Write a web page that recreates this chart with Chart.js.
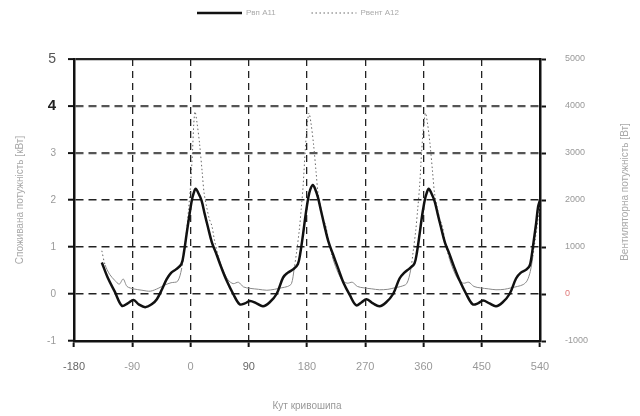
<!DOCTYPE html>
<html lang="uk">
<head>
<meta charset="UTF-8">
<title>Споживана і вентиляторна потужність</title>
<script src="https://cdn.jsdelivr.net/npm/chart.js"></script>
<style>
    body { margin: 0; background: #fff; font-family: "Liberation Sans", Arial, sans-serif; }
</style>
</head>
<body>
<canvas id="myChart" width="640" height="416"></canvas>
<script>
    // Кут кривошипа [град] і споживана потужність А11 [кВт]
    const angleA11 = [-137,-128,-117,-106,-97,-88,-80,-70,-60,-52,-44,-37,-30,-22,-14,-10,-6,-2,2,5,8,12,17,22,27,33,40,48,56,66,
        76,84,92,102,112,122,133,143,150,159,166,170,174,178,182,185,189,193,197,202,207,213,220,228,236,246,
        256,264,272,282,292,302,313,323,330,339,346,350,354,358,362,365,368,372,377,382,387,393,400,408,416,426,
        436,444,452,462,472,482,493,503,510,519,524,527,530,534,537,540];
    const powerA11 = [0.67,0.35,0.05,-0.25,-0.2,-0.13,-0.22,-0.28,-0.22,-0.11,0.1,0.31,0.45,0.53,0.64,0.9,1.28,1.65,1.99,2.15,2.24,2.15,1.99,1.7,1.42,1.1,0.85,0.55,0.28,0.0,
        -0.22,-0.2,-0.15,-0.2,-0.26,-0.18,0.0,0.35,0.45,0.53,0.64,0.9,1.28,1.7,2.05,2.22,2.32,2.22,2.05,1.75,1.45,1.12,0.85,0.55,0.25,-0.02,
        -0.24,-0.18,-0.11,-0.2,-0.26,-0.18,0.0,0.33,0.45,0.55,0.65,0.9,1.28,1.68,2.0,2.15,2.24,2.15,1.98,1.7,1.42,1.1,0.85,0.55,0.28,0.0,
        -0.22,-0.2,-0.14,-0.2,-0.26,-0.18,0.0,0.33,0.45,0.52,0.6,0.8,1.1,1.5,1.85,2.0];

    // Вентиляторна потужність А12 [Вт]
    const angleA12 = [-137,-132,-125,-117,-110,-104,-98,-88,-75,-62,-50,-40,-30,-20,-14,-10,-6,-3,0,3,5,7,10,14,18,21,25,29,33,37,43,50,58,66,
        74,82,92,105,118,130,140,150,156,160,164,168,171,174,177,180,183,186,190,194,197,201,205,209,213,219,226,234,242,
        250,258,268,280,292,305,315,325,334,340,344,348,351,354,357,360,363,366,370,374,377,381,385,389,393,399,406,414,422,
        430,438,448,460,472,485,495,505,514,520,525,529,533,537,540];
    const powerA12 = [920,620,420,290,210,320,160,110,80,60,120,190,240,270,520,900,1350,1800,2300,3000,3600,3880,3650,3200,2600,2150,1850,1600,1450,1150,800,520,300,220,
        250,150,120,100,80,100,130,160,220,520,900,1350,1800,2300,3000,3550,3850,3650,3200,2600,2150,1850,1600,1450,1150,800,520,300,230,
        250,160,130,110,90,100,130,160,220,500,900,1350,1800,2300,3000,3550,3850,3650,3200,2600,2150,1850,1600,1450,1150,800,520,300,230,
        250,160,130,110,90,100,130,160,200,280,480,800,1200,1600,1900];

    const xTicks = [-180, -90, 0, 90, 180, 270, 360, 450, 540];
    const leftTicks = [-1, 0, 1, 2, 3, 4, 5];
    const rightTicks = [-1000, 0, 1000, 2000, 3000, 4000, 5000];

    const labelA11 = 'Pвп A11';
    const labelA12 = 'Pвент A12';
    const rightTitle = 'Вентиляторна потужність [Вт]';

    function toPoints(xs, ys) {
        return xs.map((x, i) => ({ x: x, y: ys[i] }));
    }

    // заголовок правої осі читається знизу вгору, як і лівий
    const rightTitlePlugin = {
        id: 'rightTitle',
        afterDraw(chart) {
            const s = chart.scales.y2;
            const ctx = chart.ctx;
            ctx.save();
            ctx.translate(625, (s.top + s.bottom) / 2 - 8);
            ctx.rotate(-Math.PI / 2);
            ctx.font = '10px "Liberation Sans", Arial, sans-serif';
            ctx.fillStyle = '#a8a8a8';
            ctx.textAlign = 'center';
            ctx.textBaseline = 'middle';
            ctx.fillText(rightTitle, 0, 0);
            ctx.restore();
        }
    };

    // легенда трохи зсунута ліворуч
    const legendShift = {
        id: 'legendShift',
        afterLayout(chart) {
            chart.legend.left = 188;
        }
    };

    const ctx = document.getElementById('myChart').getContext('2d');
    const chart = new Chart(ctx, {
        type: 'line',
        data: {
            datasets: [
                {
                    label: labelA11 + '            ',
                    data: toPoints(angleA11, powerA11),
                    yAxisID: 'y',
                    borderColor: '#111',
                    borderWidth: 2.5,
                    pointRadius: 0,
                    tension: 0.35,
                    fill: false
                },
                {
                    label: labelA12,
                    data: toPoints(angleA12, powerA12),
                    yAxisID: 'y2',
                    borderColor: '#666',
                    borderWidth: 1,
                    borderDash: [1.5, 2.5],
                    pointRadius: 0,
                    tension: 0.3,
                    fill: false,
                    segment: {
                        borderColor: c => (c.p0.parsed.y < 900 && c.p1.parsed.y < 900) ? '#888' : undefined,
                        borderDash: c => (c.p0.parsed.y < 900 && c.p1.parsed.y < 900) ? [] : undefined
                    }
                }
            ]
        },
        options: {
            responsive: false,
            devicePixelRatio: 1,
            animation: false,
            layout: { padding: 0 },
            plugins: {
                legend: {
                    position: 'top',
                    align: 'start',
                    weight: 3000,
                    labels: {
                        usePointStyle: true,
                        pointStyle: 'line',
                        pointStyleWidth: 45,
                        boxHeight: 8,
                        padding: 9,
                        color: '#aaa',
                        font: { size: 8, family: '"Liberation Sans", Arial, sans-serif' },
                        generateLabels: ch => {
                            const items = Chart.defaults.plugins.legend.labels.generateLabels(ch);
                            items.forEach(it => {
                                const ds = ch.data.datasets[it.datasetIndex];
                                it.lineDash = ds.borderDash || [];
                                it.lineWidth = ds.borderWidth;
                                it.strokeStyle = ds.borderColor;
                            });
                            return items;
                        }
                    }
                },
                title: {
                    display: true,
                    text: '',
                    padding: { top: 10, bottom: 10 },
                    font: { size: 10 }
                },
                tooltip: { enabled: false }
            },
            scales: {
                x: {
                    type: 'linear',
                    min: -180,
                    max: 540,
                    afterFit: s => { s.height = 75; },
                    afterBuildTicks: s => { s.ticks = xTicks.map(v => ({ value: v })); },
                    border: { display: true, color: '#111', width: 2.5, dash: [7, 5] },
                    grid: {
                        color: c => (c.tick && (c.tick.value === -180 || c.tick.value === 540)) ? 'rgba(0,0,0,0)' : '#222',
                        lineWidth: 1.3,
                        tickLength: 6,
                        tickWidth: 2,
                        tickColor: '#111'
                    },
                    ticks: {
                        padding: 13,
                        maxRotation: 0,
                        callback: v => String(v),
                        color: c => (c.tick && (c.tick.value === -180 || c.tick.value === 90)) ? '#666' : '#999',
                        font: { size: 11, family: '"Liberation Sans", Arial, sans-serif' }
                    },
                    title: {
                        display: true,
                        text: 'Кут кривошипа',
                        color: '#999',
                        padding: { top: 0, bottom: 4 },
                        font: { size: 10, family: '"Liberation Sans", Arial, sans-serif' }
                    }
                },
                y: {
                    position: 'left',
                    min: -1,
                    max: 5,
                    afterFit: s => { s.width = 74; },
                    afterBuildTicks: s => { s.ticks = leftTicks.map(v => ({ value: v })); },
                    border: {
                        display: true, color: '#111', width: 2.5,
                        dash: c => (c.tick && c.tick.value === 5) ? [] : [8, 5]
                    },
                    grid: {
                        color: c => {
                            if (!c.tick) return '#222';
                            if (c.tick.value === -1) return 'rgba(0,0,0,0)';
                            if (c.tick.value === 3 || c.tick.value === 4) return '#555';
                            return '#222';
                        },
                        lineWidth: c => (c.tick && (c.tick.value >= 3)) ? 2.2 : 1.4,
                        tickLength: 6,
                        tickWidth: 2,
                        tickColor: '#111'
                    },
                    ticks: {
                        padding: 12,
                        callback: v => String(v),
                        color: c => {
                            if (c.tick && c.tick.value === 4) return '#222';
                            if (c.tick && c.tick.value === 5) return '#555';
                            return '#999';
                        },
                        font: c => {
                            if (c.tick && c.tick.value === 4) return { size: 15, weight: 'bold', family: '"Liberation Sans", Arial, sans-serif' };
                            if (c.tick && c.tick.value === 5) return { size: 14, family: '"Liberation Sans", Arial, sans-serif' };
                            return { size: 10, family: '"Liberation Sans", Arial, sans-serif' };
                        }
                    },
                    title: {
                        display: true,
                        text: 'Споживана потужність [кВт]',
                        color: '#a8a8a8',
                        padding: { top: 14, bottom: 0 },
                        font: { size: 10, family: '"Liberation Sans", Arial, sans-serif' }
                    }
                },
                y2: {
                    position: 'right',
                    min: -1000,
                    max: 5000,
                    afterFit: s => { s.width = 100; },
                    afterBuildTicks: s => { s.ticks = rightTicks.map(v => ({ value: v })); },
                    border: { display: true, color: '#111', width: 2.5 },
                    grid: {
                        drawOnChartArea: false,
                        tickLength: 6,
                        tickWidth: 2,
                        tickColor: '#111'
                    },
                    ticks: {
                        padding: 19,
                        callback: v => String(v),
                        color: c => (c.tick && c.tick.value === 0) ? '#e07a7a' : '#999',
                        font: { size: 9, family: '"Liberation Sans", Arial, sans-serif' }
                    }
                }
            }
        },
        plugins: [rightTitlePlugin, legendShift]
    });
</script>
</body>
</html>
